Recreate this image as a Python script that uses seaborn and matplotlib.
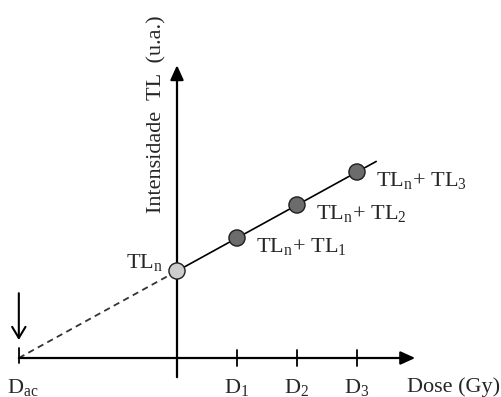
import numpy as np
import pandas as pd
import matplotlib
matplotlib.use("Agg")
import matplotlib.pyplot as plt
import seaborn as sns

# Regenerative-dose measurements: natural signal plus three added doses
doses = [0, 1, 2, 3]
tl_values = [1.45, 2.0, 2.55, 3.1]
point_kind = ["natural", "added", "added", "added"]
point_labels = [
    r"TL$_\mathregular{n}$",
    r"TL$_\mathregular{n}$+ TL$_\mathregular{1}$",
    r"TL$_\mathregular{n}$+ TL$_\mathregular{2}$",
    r"TL$_\mathregular{n}$+ TL$_\mathregular{3}$",
]
tick_positions = [1, 2, 3]
tick_labels = [r"D$_\mathregular{1}$", r"D$_\mathregular{2}$", r"D$_\mathregular{3}$"]
dac_label = r"D$_\mathregular{ac}$"
x_title = "Dose (Gy)"
y_title = "Intensidade  TL  (u.a.)"

sns.set_theme(style="white")
plt.rcParams["font.family"] = ["Liberation Serif", "DejaVu Serif"]
plt.rcParams["mathtext.fontset"] = "stix"

fig = plt.figure(figsize=(5.02, 3.97), dpi=100)
ax = fig.add_axes([0, 0, 1, 1])
ax.set_xlim(-2.95, 5.4167)
ax.set_ylim(-0.65, 5.9667)
ax.axis("off")

df = pd.DataFrame({"dose": doses, "tl": tl_values, "kind": point_kind})

# Linear fit through the measured points, extrapolated back to zero signal
slope, intercept = np.polyfit(doses, tl_values, 1)
d_ac = -intercept / slope
fit_x = np.array([0, 3.32])
sns.lineplot(x=fit_x, y=intercept + slope * fit_x, color="black", lw=1.2, ax=ax, zorder=3)
ax.plot([d_ac, 0], [0, intercept], color="#333333", lw=1.3,
        linestyle=(0, (3.5, 2.5)), zorder=2)

sns.scatterplot(data=df, x="dose", y="tl", hue="kind",
                palette={"natural": "#cdcdcd", "added": "#6c6c6c"},
                s=135, edgecolor="#1e1e1e", linewidth=1.0, legend=False,
                ax=ax, zorder=5)

fs = 16
# Axes with arrowheads
ax.annotate("", xy=(0, 4.88), xytext=(0, -0.32),
            arrowprops=dict(arrowstyle="-|>,head_length=0.55,head_width=0.25",
                            lw=1.6, color="black", shrinkA=0, shrinkB=0,
                            mutation_scale=16))
ax.annotate("", xy=(3.97, 0), xytext=(d_ac, 0),
            arrowprops=dict(arrowstyle="-|>,head_length=0.55,head_width=0.25",
                            lw=1.6, color="black", shrinkA=0, shrinkB=0,
                            mutation_scale=16))
# Marker pointing at the accumulated dose
ax.annotate("", xy=(d_ac, 0.3), xytext=(d_ac, 1.08),
            arrowprops=dict(arrowstyle="->,head_length=0.5,head_width=0.3",
                            lw=1.5, color="black", shrinkA=0, shrinkB=0,
                            mutation_scale=16))

# Dose ticks
for d in tick_positions:
    ax.plot([d, d], [-0.13, 0.13], color="black", lw=1.3)
ax.plot([d_ac, d_ac], [-0.09, 0.17], color="black", lw=1.3)

for d, lab in zip(tick_positions, tick_labels):
    ax.text(d, -0.49, lab, ha="center", va="center", fontsize=fs)
ax.text(d_ac + 0.07, -0.49, dac_label, ha="center", va="center", fontsize=fs)
ax.text(3.83, -0.49, x_title, ha="left", va="center", fontsize=fs)
ax.text(-0.34, 4.07, y_title, rotation=90, ha="center", va="center", fontsize=fs)

# Point annotations
ax.text(doses[0] - 0.23, tl_values[0] + 0.05, point_labels[0],
        ha="right", va="baseline", fontsize=fs)
for d, tl, lab in zip(doses[1:], tl_values[1:], point_labels[1:]):
    ax.text(d + 0.32, tl - 0.24, lab, ha="left", va="baseline", fontsize=fs)

fig.savefig("out.png", dpi=100)
